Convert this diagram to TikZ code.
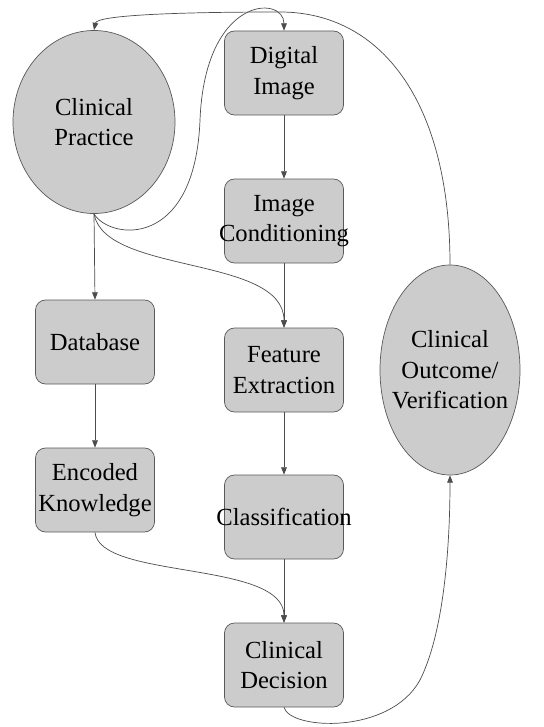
\documentclass[tikz,border=0pt]{standalone}
\usepackage{fontspec}
\setmainfont{Liberation Serif}
\usetikzlibrary{shapes.geometric,arrows.meta}

\begin{document}
\begin{tikzpicture}[x=0.03cm, y=-0.03cm, >={Triangle[length=0.22cm,width=0.17cm]},
    stage/.style={rectangle, rounded corners=0.3cm, draw=black!65, fill=gray!40, line width=0.6pt,
        minimum width=3.57cm, minimum height=2.52cm, inner sep=0pt, align=center,
        font=\fontsize{21}{26}\selectfont},
    round/.style={ellipse, draw=black!65, fill=gray!40, line width=0.6pt, inner sep=0pt},
    caption/.style={align=center, font=\fontsize{21}{26}\selectfont},
    flow/.style={->, black!70, line width=0.6pt}]
    \def\overhang#1{\makebox[0pt]{#1}}

    \useasboundingbox (0,0) rectangle (544,727);

    % round nodes, text set on top
    \node[round, minimum width=4.86cm, minimum height=5.49cm] (practice) at (94,122) {};
    \node[caption] (practicetext) at (practice) {Clinical\\Practice};
    \node[round, minimum width=4.2cm, minimum height=6.3cm] (outcome) at (450,370) {};
    \node[caption] (outcometext) at (outcome) {Clinical\\Outcome/\\Verification};

    % image chain
    \node[stage] (image) at (284,73) {Digital\\Image};
    \node[stage] (cond) at (284,221) {Image\\\overhang{Conditioning}};
    \node[stage] (feature) at (284,370) {Feature\\Extraction};
    \node[stage] (classif) at (284,517) {\overhang{Classification}};
    \node[stage] (decision) at (284,665) {Clinical\\Decision};

    % knowledge chain
    \node[stage] (database) at (95,342) {Database};
    \node[stage] (knowledge) at (95,490) {Encoded\\\overhang{Knowledge}};

    \draw[flow] (image) -- (cond);
    \draw[flow] (cond) -- (feature);
    \draw[flow] (feature) -- (classif);
    \draw[flow] (classif) -- (decision);
    \draw[flow] (practice.south) -- (database.north);
    \draw[flow] (database) -- (knowledge);

    \draw[flow] (practice.south) .. controls (105,275) and (284,255) .. (feature.north);
    \draw[flow] (practice.south) .. controls (110,240) and (195,250) .. (200,120)
        .. controls (205,-5) and (284,-5) .. (image.north);
    \draw[flow] (knowledge.south) .. controls (100,580) and (284,560) .. (decision.north);
    \draw[flow] (decision.south) .. controls (290,730) and (390,735) .. (420,680)
        .. controls (445,630) and (450,540) .. (outcome.south);
    \draw[flow] (outcome.north) .. controls (450,100) and (380,12) .. (280,12)
        .. controls (180,12) and (97,15) .. (practice.north);
\end{tikzpicture}
\end{document}
